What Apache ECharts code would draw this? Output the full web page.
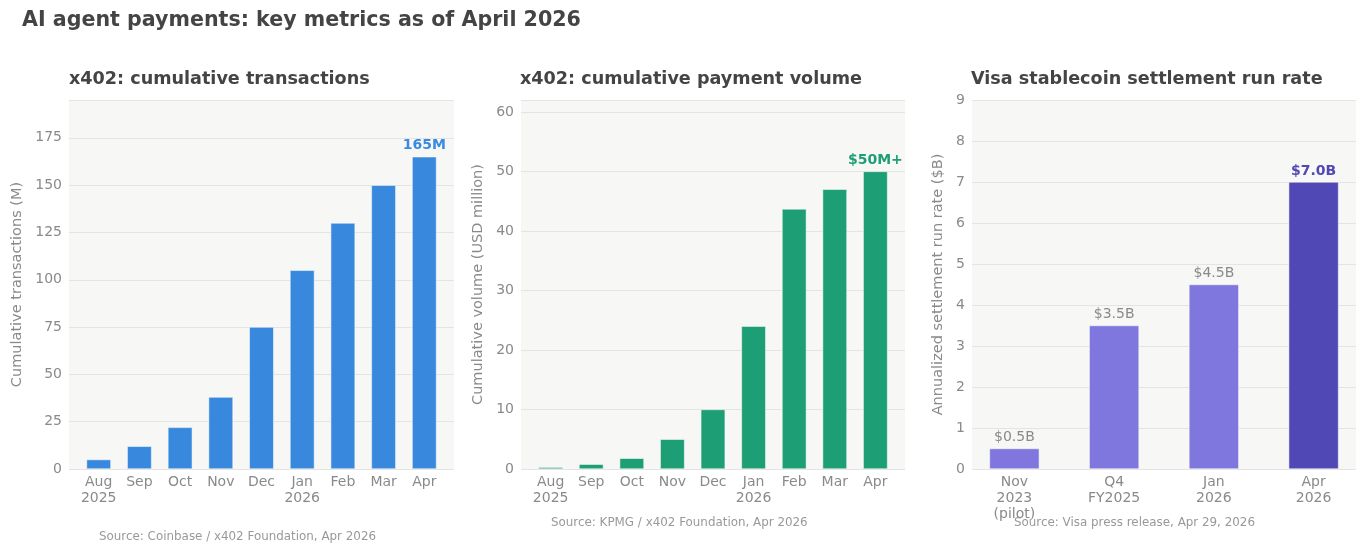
<!DOCTYPE html>
<html>
<head>
<meta charset="utf-8">
<script src="https://cdn.jsdelivr.net/npm/echarts@6/dist/echarts.min.js"></script>
<style>
  html, body { margin: 0; padding: 0; background: #fff; }
  #main { width: 1366px; height: 554px; }
</style>
</head>
<body>
<div id="main"></div>
<script>
// x402 monthly cumulative data
const txMonths = ['Aug\n2025', 'Sep', 'Oct', 'Nov', 'Dec', 'Jan\n2026', 'Feb', 'Mar', 'Apr'];
const txValues = [5, 12, 22, 38, 75, 105, 130, 150, 165];
const volValues = [0.3, 0.8, 1.8, 5, 10, 24, 43.7, 47, 50];
// Visa run rate
const visaPeriods = ['Nov\n2023\n(pilot)', 'Q4\nFY2025', 'Jan\n2026', 'Apr\n2026'];
const visaValues = [0.5, 3.5, 4.5, 7.0];
const visaLabels = ['$0.5B', '$3.5B', '$4.5B', '$7.0B'];

const FONT = 'DejaVu Sans';
const GRAY = '#8a8a8a';
const DARK = '#444444';

const chart = echarts.init(document.getElementById('main'));

const grids = [
  { left: 69, top: 100, width: 385, height: 369 },
  { left: 521, top: 100, width: 384, height: 369 },
  { left: 972, top: 100, width: 384, height: 369 }
];

function xAxisFor(idx, labels, pad) {
  const n = labels.length;
  return {
    type: 'value', gridIndex: idx,
    min: -pad, max: n - 1 + pad,
    axisLine: { show: false }, axisTick: { show: false }, splitLine: { show: false },
    axisLabel: {
      customValues: labels.map((_, i) => i),
      formatter: v => labels[Math.round(v)],
      color: GRAY, fontFamily: FONT, fontSize: 14, lineHeight: 16, margin: 5
    }
  };
}

function yAxisFor(idx, max, interval, name, gap, showMax) {
  return {
    type: 'value', gridIndex: idx, min: 0, max: max, interval: interval,
    name: name, nameLocation: 'middle', nameGap: gap,
    nameTextStyle: { color: GRAY, fontFamily: FONT, fontSize: 14.5 },
    axisLine: { show: false }, axisTick: { show: false },
    axisLabel: { color: GRAY, fontFamily: FONT, fontSize: 14, margin: 7, showMaxLabel: showMax },
    splitLine: { lineStyle: { color: '#e4e4e2', width: 1 } }
  };
}

function barPx(g, n, pad, ratio) {
  return g.width / (n - 1 + 2 * pad) * ratio;
}

const txData = txValues.map((v, i) => ({
  value: [i, v],
  label: i === txValues.length - 1
    ? { show: true, position: 'top', distance: 4, formatter: '165M', color: '#3a8ade', fontWeight: 'bold', fontSize: 14, fontFamily: FONT }
    : { show: false }
}));

const volData = volValues.map((v, i) => ({
  value: [i, v],
  label: i === volValues.length - 1
    ? { show: true, position: 'top', distance: 4, formatter: '$50M+', color: '#1d9e75', fontWeight: 'bold', fontSize: 14, fontFamily: FONT }
    : { show: false }
}));

const visaData = visaValues.map((v, i) => {
  const last = i === visaValues.length - 1;
  return {
    value: [i, v],
    itemStyle: { color: last ? '#5048b4' : '#7f77dd' },
    label: {
      show: true, position: 'top', distance: 4, formatter: visaLabels[i],
      color: last ? '#5048b4' : GRAY, fontWeight: last ? 'bold' : 'normal',
      fontSize: 14, fontFamily: FONT
    }
  };
});

const option = {
  backgroundColor: '#ffffff',
  animation: false,
  title: [
    { text: 'AI agent payments: key metrics as of April 2026', left: 17, top: 5,
      textStyle: { fontFamily: FONT, fontSize: 20.6, fontWeight: 'bold', color: DARK } },
    { text: 'x402: cumulative transactions', left: 64, top: 65,
      textStyle: { fontFamily: FONT, fontSize: 17.6, fontWeight: 'bold', color: DARK } },
    { text: 'x402: cumulative payment volume', left: 515, top: 65,
      textStyle: { fontFamily: FONT, fontSize: 17.6, fontWeight: 'bold', color: DARK } },
    { text: 'Visa stablecoin settlement run rate', left: 966, top: 65,
      textStyle: { fontFamily: FONT, fontSize: 17.6, fontWeight: 'bold', color: DARK } }
  ],
  grid: grids.map(g => Object.assign({ show: true, backgroundColor: '#f7f7f5', borderWidth: 0 }, g)),
  xAxis: [
    xAxisFor(0, txMonths, 0.73),
    xAxisFor(1, txMonths, 0.73),
    xAxisFor(2, visaPeriods, 0.425)
  ],
  yAxis: [
    yAxisFor(0, 195, 25, 'Cumulative transactions (M)', 44, false),
    yAxisFor(1, 62, 10, 'Cumulative volume (USD million)', 35, false),
    yAxisFor(2, 9, 1, 'Annualized settlement run rate ($B)', 26, true)
  ],
  series: [
    { type: 'bar', xAxisIndex: 0, yAxisIndex: 0, data: txData,
      barWidth: barPx(grids[0], 9, 0.73, 0.6),
      itemStyle: { color: '#3889de', borderColor: '#ffffff', borderWidth: 0.5 } },
    { type: 'bar', xAxisIndex: 1, yAxisIndex: 1, data: volData,
      barWidth: barPx(grids[1], 9, 0.73, 0.6),
      itemStyle: { color: '#1d9e75', borderColor: '#ffffff', borderWidth: 0.5 } },
    { type: 'bar', xAxisIndex: 2, yAxisIndex: 2, data: visaData,
      barWidth: barPx(grids[2], 4, 0.425, 0.5),
      itemStyle: { borderColor: '#ffffff', borderWidth: 0.5 } }
  ],
  graphic: [
    { type: 'text', left: 99, top: 531,
      style: { text: 'Source: Coinbase / x402 Foundation, Apr 2026', fill: '#999999', font: '11.9px "DejaVu Sans"' } },
    { type: 'text', left: 551, top: 517,
      style: { text: 'Source: KPMG / x402 Foundation, Apr 2026', fill: '#999999', font: '11.9px "DejaVu Sans"' } },
    { type: 'text', left: 1014, top: 517,
      style: { text: 'Source: Visa press release, Apr 29, 2026', fill: '#999999', font: '11.9px "DejaVu Sans"' } }
  ]
};

chart.setOption(option);
</script>
</body>
</html>
